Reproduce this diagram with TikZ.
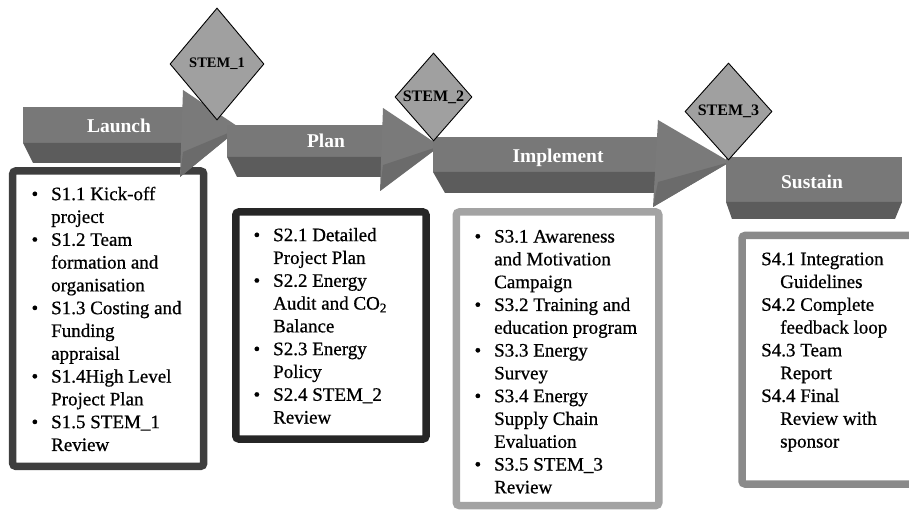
\documentclass[tikz,border=0pt]{standalone}
\usepackage{fontspec}
\setmainfont{Liberation Serif}
\newfontfamily\stepfont[FakeBold=0.7]{Liberation Serif}
\usepackage{tikz}
\usetikzlibrary{shapes.geometric}

\definecolor{facegray}{HTML}{787878}
\definecolor{bandgray}{HTML}{5C5C5C}
\definecolor{headgray}{HTML}{7A7A7A}
\definecolor{headdark}{HTML}{6B6B6B}
\definecolor{stemgray}{HTML}{A0A0A0}
\definecolor{launchline}{HTML}{3E3E3E}
\definecolor{planline}{HTML}{262626}
\definecolor{implline}{HTML}{A3A3A3}
\definecolor{sustainline}{HTML}{8A8A8A}

\newcommand{\stepbullet}{\llap{\textbullet\hspace{13pt}}}

\begin{document}
\begin{tikzpicture}[x=1pt,y=-1pt,
  topface/.style={fill=facegray},
  sideface/.style={fill=bandgray},
  headface/.style={fill=headgray},
  headlow/.style={fill=headdark},
  stepframe/.style={line width=7.5pt,rounded corners=3pt},
  phase/.style={text=white,inner sep=0pt,anchor=base,
    font=\fontsize{19.5}{22}\selectfont\bfseries},
  steps/.style={align=left,inner sep=0pt,anchor=north west,
    font=\stepfont\fontsize{19}{22.8}\selectfont},
  stem/.style={shape=diamond,draw=black,fill=stemgray,line width=0.9pt,
    inner sep=0pt,font=\bfseries}]
  \useasboundingbox (0,0) rectangle (909,510);

  % step boxes
  \draw[stepframe,draw=launchline] (12.7,171) rectangle (203.7,466.3);
  \draw[stepframe,draw=planline] (235.8,212) rectangle (426,439);
  \draw[stepframe,draw=implline] (456.3,212) rectangle (658.8,505.5);
  \draw[stepframe,draw=sustainline] (742,235.5) rectangle (925,484);

  % launch arrow
  \fill[topface] (23,107) rectangle (184,143);
  \fill[sideface] (23,143) -- (184,143) -- (184,163) -- (33,163) -- cycle;
  \fill[headface] (183,90) -- (240,128) -- (180,177) -- cycle;
  \fill[headlow] (183,152) -- (240,128) -- (180,177) -- cycle;

  % plan arrow
  \fill[topface] (227,125) rectangle (383,157);
  \fill[sideface] (227,157) -- (383,157) -- (383,177) -- (237,177) -- cycle;
  \fill[headface] (383,108) -- (440,146) -- (380,191) -- cycle;
  \fill[headlow] (383,165) -- (440,146) -- (380,191) -- cycle;

  % implement arrow
  \fill[topface] (433,137) rectangle (658,172);
  \fill[sideface] (433,172) -- (658,172) -- (658,193) -- (445,193) -- cycle;
  \fill[headface] (658,120) -- (730,162) -- (653,207) -- cycle;
  \fill[headlow] (658,182) -- (730,162) -- (653,207) -- cycle;

  % sustain block
  \fill[topface] (726,157) rectangle (902,202);
  \fill[sideface] (726,202) -- (902,202) -- (895,219) -- (732,219) -- cycle;

  \node[phase] (launch) at (119,132.3) {Launch};
  \node[phase] (plan) at (326,147.7) {Plan};
  \node[phase] (implement) at (558,162.7) {Implement};
  \node[phase] (sustain) at (812,188.3) {Sustain};

  % milestones
  \node[stem,minimum width=94pt,minimum height=112pt] (stemone) at (217,64)
    {\fontsize{14.5}{16}\selectfont\makebox[0pt]{STEM\_1}};
  \node[stem,minimum width=77pt,minimum height=88pt] (stemtwo) at (433.5,97)
    {\fontsize{16}{18}\selectfont\makebox[0pt]{STEM\_2}};
  \node[stem,minimum width=87pt,minimum height=97pt] (stemthree) at (728.5,111.5)
    {\fontsize{16}{18}\selectfont\makebox[0pt]{STEM\_3}};

  % step lists
  \node[steps] (launchsteps) at (51,184) {\strut\stepbullet S1.1 Kick-off\\
    project\\ \stepbullet S1.2 Team\\ formation and\\ organisation\\
    \stepbullet S1.3 Costing and\\ Funding\\ appraisal\\
    \stepbullet S1.4High Level\\ Project Plan\\
    \stepbullet S1.5 STEM\_1\\ Review};
  \node[steps] (plansteps) at (273,225) {\strut\stepbullet S2.1 Detailed\\
    Project Plan\\ \stepbullet S2.2 Energy\\ Audit and CO\textsubscript{2}\\
    Balance\\ \stepbullet S2.3 Energy\\ Policy\\
    \stepbullet S2.4 STEM\_2\\ Review};
  \node[steps] (implsteps) at (494,226.4) {\strut\stepbullet S3.1 Awareness\\
    and Motivation\\ Campaign\\ \stepbullet S3.2 Training and\\
    education program\\ \stepbullet S3.3 Energy\\ Survey\\
    \stepbullet S3.4 Energy\\ Supply Chain\\ Evaluation\\
    \stepbullet S3.5 STEM\_3\\ Review};
  \node[steps] (sustainsteps) at (761,249) {\strut S4.1 Integration\\
    \hspace*{19pt}Guidelines\\ S4.2 Complete\\ \hspace*{19pt}feedback loop\\
    S4.3 Team\\ \hspace*{19pt}Report\\ S4.4 Final\\
    \hspace*{19pt}Review with\\ \hspace*{19pt}sponsor};
\end{tikzpicture}
\end{document}
